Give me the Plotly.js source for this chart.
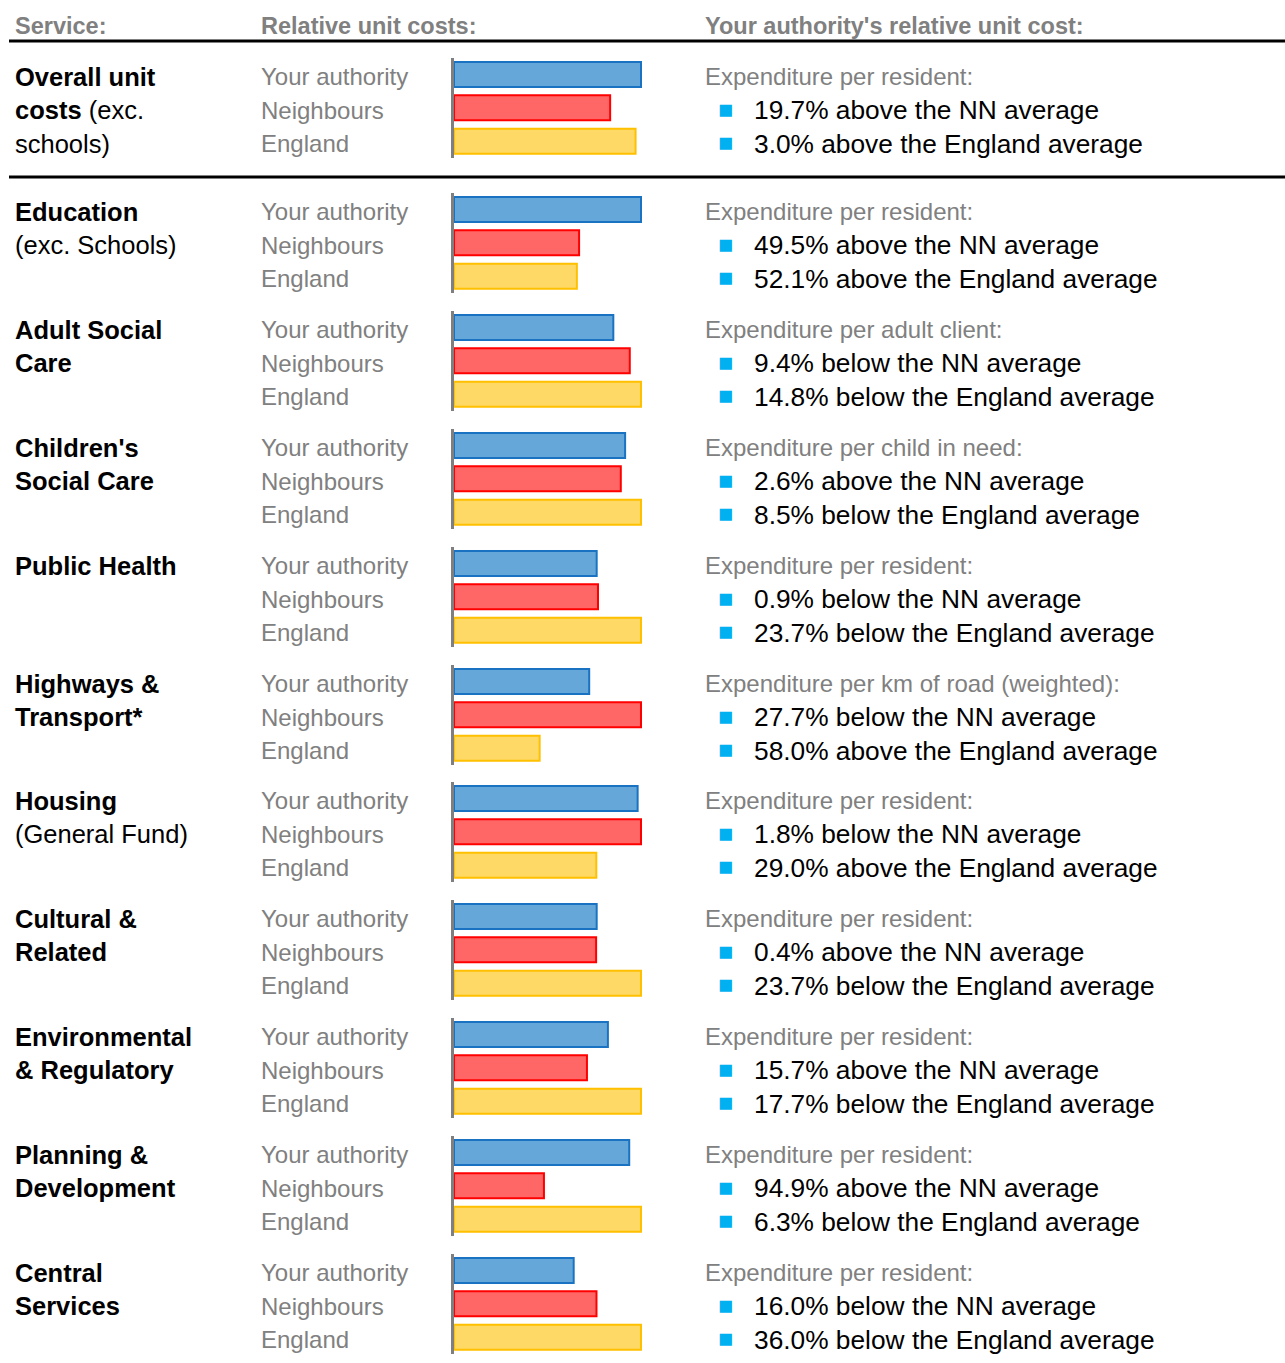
<!DOCTYPE html>
<html>
<head>
<meta charset="utf-8">
<script src="https://cdn.plot.ly/plotly-3.0.1.min.js"></script>
<style>html,body{margin:0;padding:0;background:#fff;}#chart{width:1285px;height:1363px;}</style>
</head>
<body>
<div id="chart"></div>
<script>
// ---------- DATA ----------
const rowLabels = ["Your authority", "Neighbours", "England"];

const serviceLines = [
  ["<b>Overall unit</b>", "<b>costs</b> (exc.", "schools)"],
  ["<b>Education</b>", "(exc. Schools)"],
  ["<b>Adult Social</b>", "<b>Care</b>"],
  ["<b>Children's</b>", "<b>Social Care</b>"],
  ["<b>Public Health</b>"],
  ["<b>Highways &</b>", "<b>Transport*</b>"],
  ["<b>Housing</b>", "(General Fund)"],
  ["<b>Cultural &</b>", "<b>Related</b>"],
  ["<b>Environmental</b>", "<b>& Regulatory</b>"],
  ["<b>Planning &</b>", "<b>Development</b>"],
  ["<b>Central</b>", "<b>Services</b>"]
];

// relative unit costs (bar lengths, largest of each group = 1)
const authorityVals = [1.000, 1.000, 0.852, 0.915, 0.763, 0.723, 0.982, 0.763, 0.823, 0.937, 0.640];
const neighbourVals = [0.835, 0.669, 0.940, 0.892, 0.770, 1.000, 1.000, 0.760, 0.711, 0.481, 0.762];
const englandVals   = [0.971, 0.657, 1.000, 1.000, 1.000, 0.458, 0.761, 1.000, 1.000, 1.000, 1.000];

const measures = ["resident", "resident", "adult client", "child in need", "resident",
  "km of road (weighted)", "resident", "resident", "resident", "resident", "resident"];
const pctVsNN      = [19.7, 49.5, -9.4, 2.6, -0.9, -27.7, -1.8, 0.4, 15.7, 94.9, -16.0];
const pctVsEngland = [3.0, 52.1, -14.8, -8.5, -23.7, 58.0, 29.0, -23.7, -17.7, -6.3, -36.0];

// ---------- LAYOUT ----------
const W = 1285, H = 1363;
const px = v => v / W;
const py = v => 1 - v / H;
const firstRowY = [77, 212, 330, 448, 566, 684, 801, 919, 1037, 1155, 1273];
const rowStep = 33.3;
const FONT = "Liberation Sans, Arial, sans-serif";
const grey = "#808080";

const fillColors = ["#65a7d8", "#ff6666", "#ffd966"];
const lineColors = ["#1a72c2", "#ff0000", "#ffc000"];

const traces = [];
const layout = {
  width: W, height: H,
  margin: {l: 0, r: 0, t: 0, b: 0},
  paper_bgcolor: "#fff", plot_bgcolor: "rgba(0,0,0,0)",
  showlegend: false,
  bargap: 0.25,
  font: {family: FONT},
  annotations: [],
  shapes: [
    {type: "line", xref: "paper", yref: "paper", x0: px(9), x1: px(1285), y0: py(41), y1: py(41), line: {color: "#000", width: 3}},
    {type: "line", xref: "paper", yref: "paper", x0: px(9), x1: px(1285), y0: py(177), y1: py(177), line: {color: "#000", width: 3}}
  ]
};

function ann(text, x, yref, y, size, color, extra) {
  return Object.assign({
    text: text, xref: "paper", x: px(x), xanchor: "left",
    yref: yref, y: y, yanchor: "middle", showarrow: false,
    font: {family: FONT, size: size, color: color}
  }, extra || {});
}

// headers
layout.annotations.push(ann("<b>Service:</b>", 13, "paper", py(26), 23.5, grey));
layout.annotations.push(ann("<b>Relative unit costs:</b>", 259, "paper", py(26), 23.5, grey));
layout.annotations.push(ann("<b>Your authority's relative unit cost:</b>", 703, "paper", py(26), 23.5, grey));

const fmt = (v, ref) => Math.abs(v).toFixed(1) + "% " + (v >= 0 ? "above" : "below") + " the " + ref + " average";

for (let i = 0; i < serviceLines.length; i++) {
  const k = i + 1;
  const xa = "x" + (k === 1 ? "" : k), ya = "y" + (k === 1 ? "" : k);
  const xKey = "xaxis" + (k === 1 ? "" : k), yKey = "yaxis" + (k === 1 ? "" : k);
  const c = firstRowY[i] + rowStep - 2.5;
  const maxRange = 1.02;

  traces.push({
    type: "bar", orientation: "h",
    x: [authorityVals[i], neighbourVals[i], englandVals[i]],
    y: rowLabels,
    xaxis: xa, yaxis: ya,
    marker: {color: fillColors, line: {color: lineColors, width: 2}},
    hoverinfo: "skip"
  });

  layout[xKey] = {
    domain: [px(454), px(454 + 187 * maxRange)], range: [0, maxRange],
    anchor: ya, visible: false, fixedrange: true
  };
  layout[yKey] = {
    domain: [py(c + 50), py(c - 50)], anchor: xa,
    type: "category", categoryarray: rowLabels, categoryorder: "array",
    range: [2.5, -0.5], autorange: false,
    showline: true, linecolor: "#7f7f7f", linewidth: 3,
    showticklabels: false, ticks: "", showgrid: false, zeroline: false, fixedrange: true
  };

  // service name lines
  serviceLines[i].forEach((t, j) => {
    layout.annotations.push(ann(t, 13, ya, rowLabels[j], 25.5, "#000", {yshift: -2.5}));
  });
  // row labels
  rowLabels.forEach(lbl => {
    layout.annotations.push(ann(lbl, 259, ya, lbl, 24, grey, {yshift: -2.5}));
  });
  // right column
  layout.annotations.push(ann("Expenditure per " + measures[i] + ":", 703, ya, rowLabels[0], 24, grey, {yshift: -2.5}));
  layout.annotations.push(ann("■", 716, ya, rowLabels[1], 25, "#00b0f0", {yshift: -1}));
  layout.annotations.push(ann(fmt(pctVsNN[i], "NN"), 752, ya, rowLabels[1], 26.3, "#000", {yshift: -2.5}));
  layout.annotations.push(ann("■", 716, ya, rowLabels[2], 25, "#00b0f0", {yshift: -1}));
  layout.annotations.push(ann(fmt(pctVsEngland[i], "England"), 752, ya, rowLabels[2], 26.3, "#000", {yshift: -2.5}));
}

Plotly.newPlot("chart", traces, layout, {displayModeBar: false, staticPlot: true});
</script>
</body>
</html>
